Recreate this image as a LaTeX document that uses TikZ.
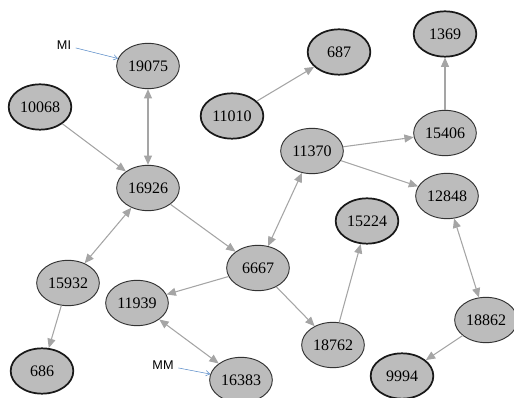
\documentclass[tikz,border=0pt]{standalone}
\usepackage{fontspec}
\setmainfont{Liberation Serif}
\newfontfamily\labelfont{Liberation Sans}
\usetikzlibrary{arrows.meta,shapes.geometric}
\definecolor{nodegray}{RGB}{188,188,188}
\definecolor{edgegray}{RGB}{165,165,165}
\definecolor{tagblue}{RGB}{90,140,200}
\tikzset{
  vert/.style={ellipse,draw=black!80,fill=nodegray,line width=0.7pt,minimum width=47pt,minimum height=34pt,inner sep=0pt,font=\fontsize{12}{14}\selectfont},
  leaf/.style={vert,draw=black!90,line width=1.3pt},
  edge/.style={draw=edgegray,line width=0.8pt,-{Triangle[length=7pt,width=6pt]}},
  biedge/.style={edge,{Triangle[length=7pt,width=6pt]}-{Triangle[length=7pt,width=6pt]}},
  tag/.style={draw=tagblue,line width=0.4pt,-{Straight Barb[length=3pt,width=4pt]}}
}
\begin{document}
\begin{tikzpicture}[x=0.75pt,y=-0.75pt]
                \useasboundingbox (0,0) rectangle (514,398);
                % vertices
                \node[vert] (n19075) at (148,66) {19075};
                \node[leaf] (n10068) at (40,107) {10068};
                \node[leaf] (n11010) at (232,116) {11010};
                \node[leaf] (n687) at (339,52) {687};
                \node[leaf] (n1369) at (445,34) {1369};
                \node[vert] (n15406) at (445,133) {15406};
                \node[vert] (n11370) at (312,151) {11370};
                \node[vert] (n12848) at (447,196) {12848};
                \node[vert] (n16926) at (148,188) {16926};
                \node[leaf] (n15224) at (367,221) {15224};
                \node[vert] (n6667) at (258,268) {6667};
                \node[vert] (n15932) at (68,283) {15932};
                \node[vert] (n11939) at (137,303) {11939};
                \node[leaf] (n686) at (42,371) {686};
                \node[vert] (n16383) at (241,380) {16383};
                \node[vert] (n18762) at (333,345) {18762};
                \node[vert] (n18862) at (486,320) {18862};
                \node[leaf] (n9994) at (402,376) {9994};
                % one-way links
                \foreach \a/\b in {10068/16926,11010/687,15406/1369,11370/15406,11370/12848,
                    16926/6667,6667/11939,6667/18762,15932/686,18762/15224,18862/9994}
                \draw[edge] (n\a) -- (n\b);
                % two-way links
                \foreach \a/\b in {19075/16926,6667/11370,16926/15932,11939/16383,12848/18862}
                \draw[biedge] (n\a) -- (n\b);
                % markers
                \node[font=\labelfont\fontsize{9.5}{11}\selectfont] (mi) at (64,45) {MI};
                \node[font=\labelfont\fontsize{9.5}{11}\selectfont] (mm) at (163,365) {MM};
                \draw[tag] (mi) -- (n19075);
                \draw[tag] (mm) -- (n16383);
            \end{tikzpicture}
\end{document}
